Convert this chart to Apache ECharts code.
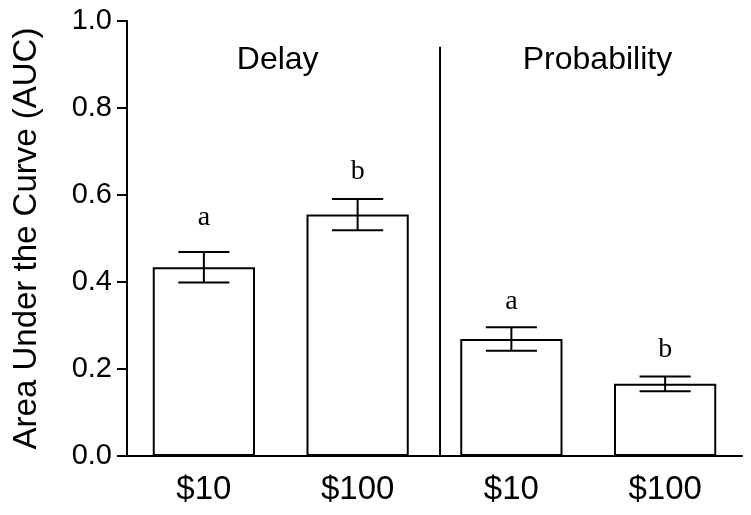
<!DOCTYPE html>
<html>
<head>
<meta charset="utf-8">
<script src="https://cdn.jsdelivr.net/npm/echarts@6/dist/echarts.min.js"></script>
<style>html,body{margin:0;padding:0;background:#fff}#chart{width:751px;height:515px}</style>
</head>
<body>
<div id="chart"></div>
<script>
// ---- data ----
const categories = ['$10', '$100', '$10', '$100'];
const auc = [0.434, 0.555, 0.269, 0.166];
const sem = [0.035, 0.036, 0.027, 0.017];
const letters = ['a', 'b', 'a', 'b'];
const groups = ['Delay', 'Probability'];
const yTickLabels = ['0.0', '0.2', '0.4', '0.6', '0.8', '1.0'];

// ---- layout / style (not data) ----
const letterGap = [20, 13, 12, 13];
const groupLabelX = [0.98, 3.06];
const groupLabelY = 0.909;
const dividerX = 2.036;
const dividerTop = 0.941;
const barFrac = 0.665;

const chart = echarts.init(document.getElementById('chart'), null, {renderer: 'canvas'});

const option = {
  animation: false,
  backgroundColor: '#fff',
  grid: {left: 127, right: 9, top: 21, bottom: 59, containLabel: false},
  xAxis: [{
    type: 'category',
    data: categories,
    axisLine: {lineStyle: {color: '#000', width: 2}},
    axisTick: {alignWithLabel: true, length: 10, lineStyle: {color: '#000', width: 2}},
    axisLabel: {color: '#000', fontSize: 33, fontFamily: 'Liberation Sans', margin: 17},
    splitLine: {show: false}
  }, {
    type: 'value', min: 0, max: 4, show: false
  }],
  yAxis: {
    type: 'value', min: 0, max: 1, interval: 0.2,
    name: 'Area Under the Curve (AUC)',
    nameLocation: 'middle', nameGap: 84,
    nameTextStyle: {color: '#000', fontSize: 33, fontFamily: 'Liberation Sans'},
    axisLine: {show: true, lineStyle: {color: '#000', width: 2}},
    axisTick: {show: true, length: 10, lineStyle: {color: '#000', width: 2}},
    axisLabel: {color: '#000', fontSize: 29, fontFamily: 'Liberation Sans', margin: 15,
      formatter: (v) => yTickLabels[Math.round(v / 0.2)]},
    splitLine: {show: false}
  },
  series: [{
    type: 'bar',
    data: auc,
    barWidth: (barFrac * 100) + '%',
    itemStyle: {color: '#fff', borderColor: '#000', borderWidth: 2},
    z: 2,
    silent: true
  }, {
    type: 'custom',
    data: auc.map((v, i) => [i, v, sem[i]]),
    z: 5,
    silent: true,
    renderItem: function (params, api) {
      const i = api.value(0);
      const m = api.value(1);
      const s = api.value(2);
      const top = api.coord([i, m + s]);
      const bot = api.coord([i, m - s]);
      const half = api.size([1, 0])[0] * barFrac / 4;
      const st = {stroke: '#000', lineWidth: 2};
      return {
        type: 'group',
        children: [
          {type: 'line', shape: {x1: top[0], y1: top[1], x2: bot[0], y2: bot[1]}, style: st},
          {type: 'line', shape: {x1: top[0] - half, y1: top[1], x2: top[0] + half, y2: top[1]}, style: st},
          {type: 'line', shape: {x1: bot[0] - half, y1: bot[1], x2: bot[0] + half, y2: bot[1]}, style: st},
          {type: 'text', style: {text: letters[i], x: top[0], y: top[1] - letterGap[i],
            align: 'center', verticalAlign: 'bottom', fill: '#000',
            font: '28px "Liberation Serif", "Times New Roman", serif'}}
        ]
      };
    }
  }, {
    type: 'line',
    xAxisIndex: 1,
    data: [[dividerX, 0], [dividerX, dividerTop]],
    symbol: 'none',
    lineStyle: {color: '#000', width: 2},
    z: 5,
    silent: true
  }, {
    type: 'custom',
    xAxisIndex: 1,
    z: 5,
    silent: true,
    data: groups.map((g, i) => [groupLabelX[i], groupLabelY]),
    renderItem: function (params, api) {
      const p = api.coord([api.value(0), api.value(1)]);
      return {type: 'text', style: {text: groups[params.dataIndex], x: p[0], y: p[1],
        align: 'center', verticalAlign: 'middle', fill: '#000',
        font: '32px "Liberation Sans", Arial, sans-serif'}};
    }
  }]
};
chart.setOption(option);
</script>
</body>
</html>
